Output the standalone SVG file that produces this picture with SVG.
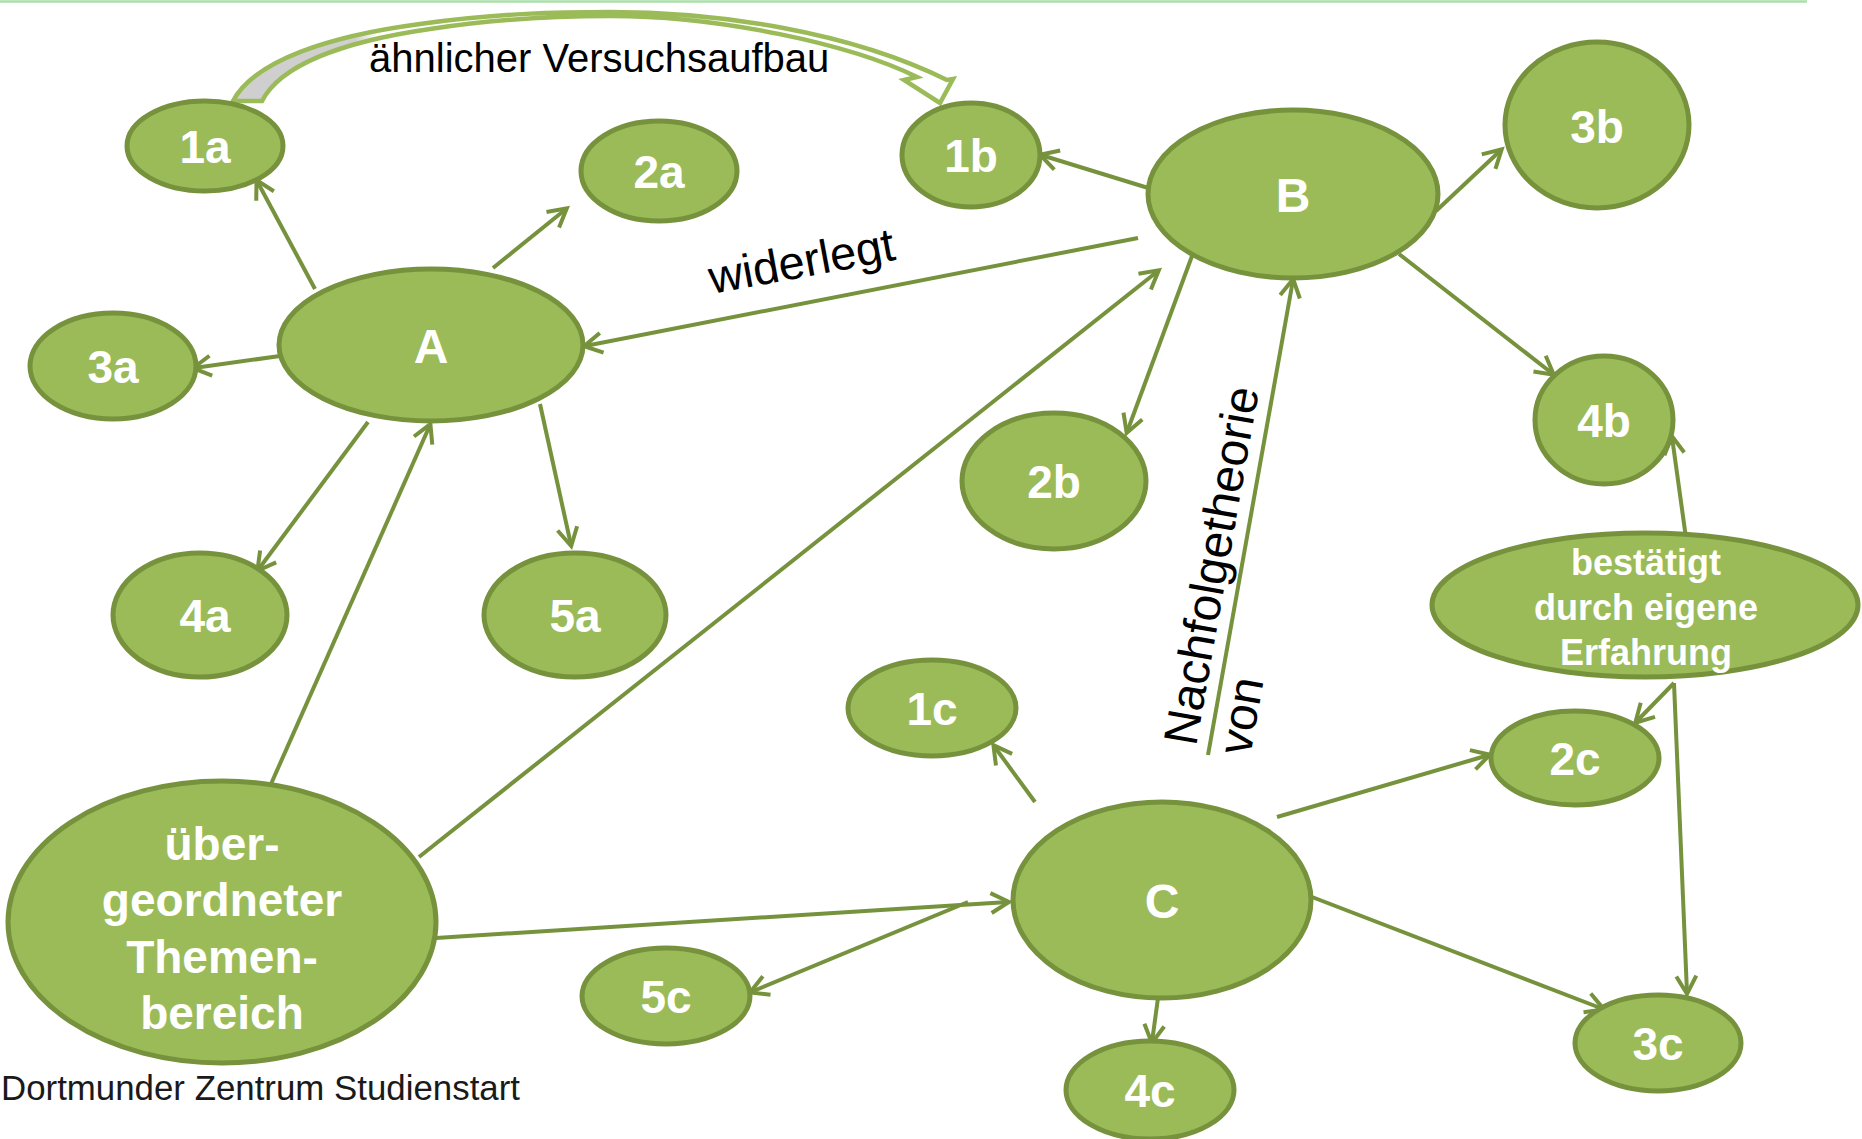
<svg xmlns="http://www.w3.org/2000/svg" width="1862" height="1139" viewBox="0 0 1862 1139">
  <style>
    .node ellipse { fill: #9bbb59; stroke: #76923c; stroke-width: 5; }
    .lbl { font-family: "Liberation Sans", Arial, sans-serif; font-weight: bold; fill: #ffffff; text-anchor: middle; font-size: 46px; }
    .big { font-size: 48px; }
    .mid { font-size: 36px; }
    .edge { stroke: #76923c; stroke-width: 4; fill: none; marker-end: url(#ah); }
    .elbl { font-family: "Liberation Sans", Arial, sans-serif; fill: #000000; }
  </style>
  <defs>
    <marker id="ah" viewBox="0 0 22 22" refX="19" refY="11" markerWidth="22" markerHeight="22" markerUnits="userSpaceOnUse" orient="auto" overflow="visible">
      <path d="M2,1 L20,11 L2,21" fill="none" stroke="#76923c" stroke-width="4" stroke-linejoin="miter"/>
    </marker>
    <linearGradient id="ribbon" gradientUnits="userSpaceOnUse" x1="233" y1="0" x2="953" y2="0">
      <stop offset="0" stop-color="#cfcfcf"/>
      <stop offset="0.17" stop-color="#cfcfcf"/>
      <stop offset="0.2" stop-color="#ffffff"/>
      <stop offset="1" stop-color="#ffffff"/>
    </linearGradient>
  </defs>

  <rect x="0" y="0" width="1862" height="1139" fill="#ffffff"/>
  <line x1="0" y1="1.5" x2="1807" y2="1.5" stroke="#a9dfa9" stroke-width="2.5"/>

  <g id="connectors">
    <line class="edge" x1="315" y1="289" x2="257" y2="181"/>
    <line class="edge" x1="493" y1="268" x2="566" y2="209"/>
    <line class="edge" x1="280" y1="356" x2="194" y2="368"/>
    <line class="edge" x1="368" y1="422" x2="258" y2="570"/>
    <line class="edge" x1="540" y1="404" x2="571" y2="545"/>
    <line class="edge" x1="1138" y1="238" x2="585" y2="346"/>
    <line class="edge" x1="1158" y1="191" x2="1041" y2="155"/>
    <line class="edge" x1="1436" y1="211" x2="1501" y2="150"/>
    <line class="edge" x1="1399" y1="254" x2="1553" y2="374"/>
    <line class="edge" x1="1192" y1="256" x2="1127" y2="432"/>
    <line class="edge" x1="271" y1="784" x2="430" y2="425"/>
    <line class="edge" x1="419" y1="857" x2="1158" y2="271"/>
    <line class="edge" x1="436" y1="938" x2="1008" y2="902"/>
    <line class="edge" x1="968" y1="902" x2="751" y2="992"/>
    <line class="edge" x1="1035" y1="802" x2="994" y2="746"/>
    <line class="edge" x1="1277" y1="817" x2="1489" y2="755"/>
    <line class="edge" x1="1312" y1="897" x2="1603" y2="1009"/>
    <line class="edge" x1="1158" y1="998" x2="1152" y2="1042"/>
    <line class="edge" x1="1208" y1="755" x2="1293" y2="280"/>
    <line class="edge" x1="1686" y1="538" x2="1672" y2="437"/>
    <line class="edge" x1="1674" y1="683" x2="1636" y2="722"/>
    <line class="edge" x1="1674" y1="683" x2="1687" y2="993"/>
    <path id="curved-arrow" d="M233,101 C255,60 330,36 420,24 C500,13 560,12 610,12 C720,12 850,32 947,80 L953,79 L940,103 L904,80 L917,77 C850,44 720,16 610,16 C560,16 500,18 430,29 C340,42 280,66 262,101 Z" fill="url(#ribbon)" stroke="#9bbb59" stroke-width="4.5" stroke-linejoin="miter"/>
    <text class="elbl" x="369" y="72" font-size="40">ähnlicher Versuchsaufbau</text>
    <text class="elbl" font-size="47" transform="translate(712,294) rotate(-10.5)">widerlegt</text>
    <text class="elbl" font-size="48" transform="translate(1196,747) rotate(-80)"><tspan x="0" y="0">Nachfolgetheorie</tspan><tspan x="0" y="55">von</tspan></text>
  </g>

  <g id="n1a" class="node"><ellipse cx="205" cy="146" rx="78" ry="45"/><text class="lbl" x="205" y="163">1a</text></g>
  <g id="n2a" class="node"><ellipse cx="659" cy="171" rx="78" ry="50"/><text class="lbl" x="659" y="188">2a</text></g>
  <g id="n1b" class="node"><ellipse cx="971" cy="155" rx="69" ry="52"/><text class="lbl" x="971" y="172">1b</text></g>
  <g id="nB" class="node"><ellipse cx="1293" cy="194" rx="145" ry="84"/><text class="lbl big" x="1293" y="212">B</text></g>
  <g id="n3b" class="node"><ellipse cx="1597" cy="125" rx="92" ry="83"/><text class="lbl" x="1597" y="143">3b</text></g>
  <g id="nA" class="node"><ellipse cx="431" cy="345" rx="152" ry="76"/><text class="lbl big" x="431" y="363">A</text></g>
  <g id="n3a" class="node"><ellipse cx="113" cy="366" rx="83" ry="53"/><text class="lbl" x="113" y="383">3a</text></g>
  <g id="n4a" class="node"><ellipse cx="200" cy="615" rx="87" ry="62"/><text class="lbl" x="205" y="632">4a</text></g>
  <g id="n5a" class="node"><ellipse cx="575" cy="615" rx="91" ry="62"/><text class="lbl" x="575" y="632">5a</text></g>
  <g id="n2b" class="node"><ellipse cx="1054" cy="481" rx="92" ry="68"/><text class="lbl" x="1054" y="498">2b</text></g>
  <g id="n4b" class="node"><ellipse cx="1604" cy="420" rx="69" ry="64"/><text class="lbl" x="1604" y="437">4b</text></g>
  <g id="nBest" class="node"><ellipse cx="1645" cy="605" rx="213" ry="72"/><text class="lbl mid" x="1646"><tspan x="1646" y="575">bestätigt</tspan><tspan x="1646" y="620">durch eigene</tspan><tspan x="1646" y="665">Erfahrung</tspan></text></g>
  <g id="n1c" class="node"><ellipse cx="932" cy="708" rx="84" ry="48"/><text class="lbl" x="932" y="725">1c</text></g>
  <g id="n2c" class="node"><ellipse cx="1575" cy="758" rx="84" ry="47"/><text class="lbl" x="1575" y="775">2c</text></g>
  <g id="nC" class="node"><ellipse cx="1162" cy="900" rx="149" ry="98"/><text class="lbl big" x="1162" y="918">C</text></g>
  <g id="n5c" class="node"><ellipse cx="666" cy="996" rx="84" ry="48"/><text class="lbl" x="666" y="1013">5c</text></g>
  <g id="n4c" class="node"><ellipse cx="1150" cy="1090" rx="84" ry="49"/><text class="lbl" x="1150" y="1107">4c</text></g>
  <g id="n3c" class="node"><ellipse cx="1658" cy="1043" rx="83" ry="48"/><text class="lbl" x="1658" y="1060">3c</text></g>
  <g id="nUeber" class="node"><ellipse cx="222" cy="922" rx="214" ry="141"/><text class="lbl" x="222" font-size="48"><tspan x="222" y="860">über-</tspan><tspan x="222" y="916">geordneter</tspan><tspan x="222" y="973">Themen-</tspan><tspan x="222" y="1029">bereich</tspan></text></g>

  <text x="1" y="1100" font-family="Liberation Sans, Arial, sans-serif" font-size="35" fill="#1a1a1a" textLength="519" lengthAdjust="spacingAndGlyphs">Dortmunder Zentrum Studienstart</text>
</svg>
